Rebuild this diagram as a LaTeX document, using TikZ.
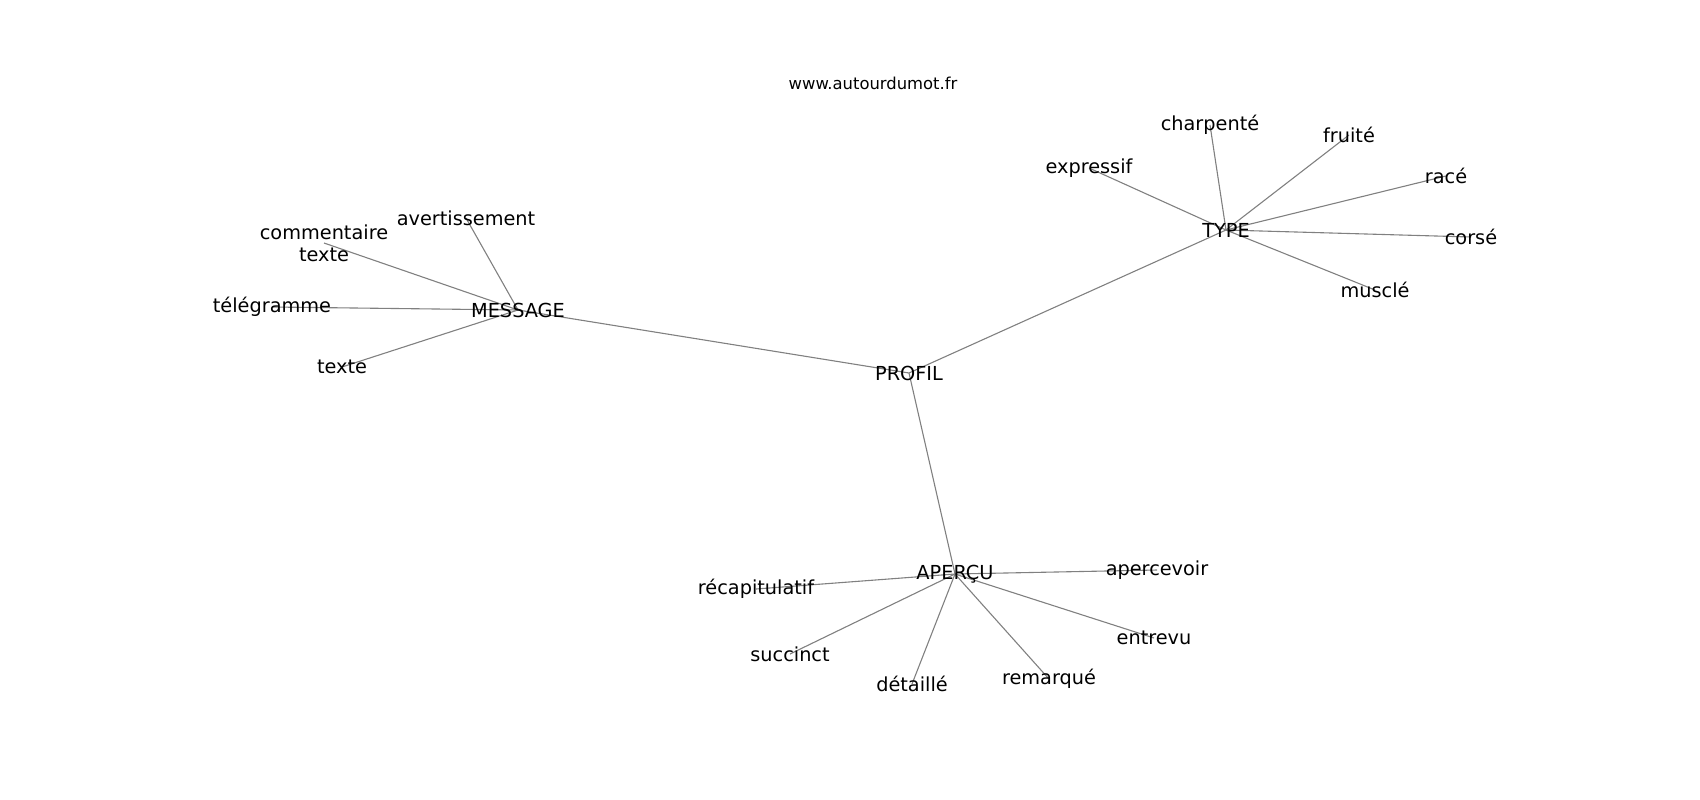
\documentclass[tikz,border=0pt]{standalone}
\usepackage{fontspec}
\setmainfont{DejaVu Sans}
\usepackage{tikz}
\usetikzlibrary{backgrounds}
\definecolor{EdgeGray}{rgb}{0.5,0.5,0.5}

\begin{document}
\begin{tikzpicture}[x=1pt,y=-1pt,
    word/.style={inner sep=0pt,font=\fontsize{19.3}{22}\selectfont,align=center},
    link/.style={EdgeGray,line width=1.1pt}]
    %%Frame
    \useasboundingbox (0,0) rectangle (1700,800);
    %%Title
    \node[inner sep=0pt,font=\fontsize{16.4}{19}\selectfont] (title) at (873,83) {www.autourdumot.fr};
    %%Hubs
    \node[word] (profil) at (909,373) {PROFIL};
    \node[word] (message) at (518,310) {MESSAGE};
    \node[word] (type) at (1226,230) {TYPE};
    \node[word] (apercu) at (955,574) {APERÇU};
    %%Message words
    \node[word] (avert) at (466,218) {avertissement};
    \node[word] (comment) at (324,243) {commentaire\\texte};
    \node[word] (telegr) at (272,307) {télégramme};
    \node[word] (texte) at (342,367) {texte};
    %%Type words
    \node[word] (charp) at (1210,125) {charpenté};
    \node[word] (fruite) at (1349,135) {fruité};
    \node[word] (express) at (1089,168) {expressif};
    \node[word] (race) at (1446,176) {racé};
    \node[word] (corse) at (1471,237) {corsé};
    \node[word] (muscle) at (1375,290) {musclé};
    %%Apercu words
    \node[word] (aperc) at (1157,570) {apercevoir};
    \node[word] (recap) at (756,589) {récapitulatif};
    \node[word] (entrevu) at (1154,638) {entrevu};
    \node[word] (succ) at (790,654) {succinct};
    \node[word] (detail) at (912,684) {détaillé};
    \node[word] (remarq) at (1049,679) {remarqué};
    %%Edges
    \begin{scope}[on background layer]
        \foreach \a/\b in {profil/message,profil/type,profil/apercu,
            message/avert,message/comment,message/telegr,message/texte,
            type/charp,type/fruite,type/express,type/race,type/corse,type/muscle,
            apercu/aperc,apercu/recap,apercu/entrevu,apercu/succ,apercu/detail,apercu/remarq}
            \draw[link] (\a.center) to (\b.center);
    \end{scope}
\end{tikzpicture}
\end{document}
